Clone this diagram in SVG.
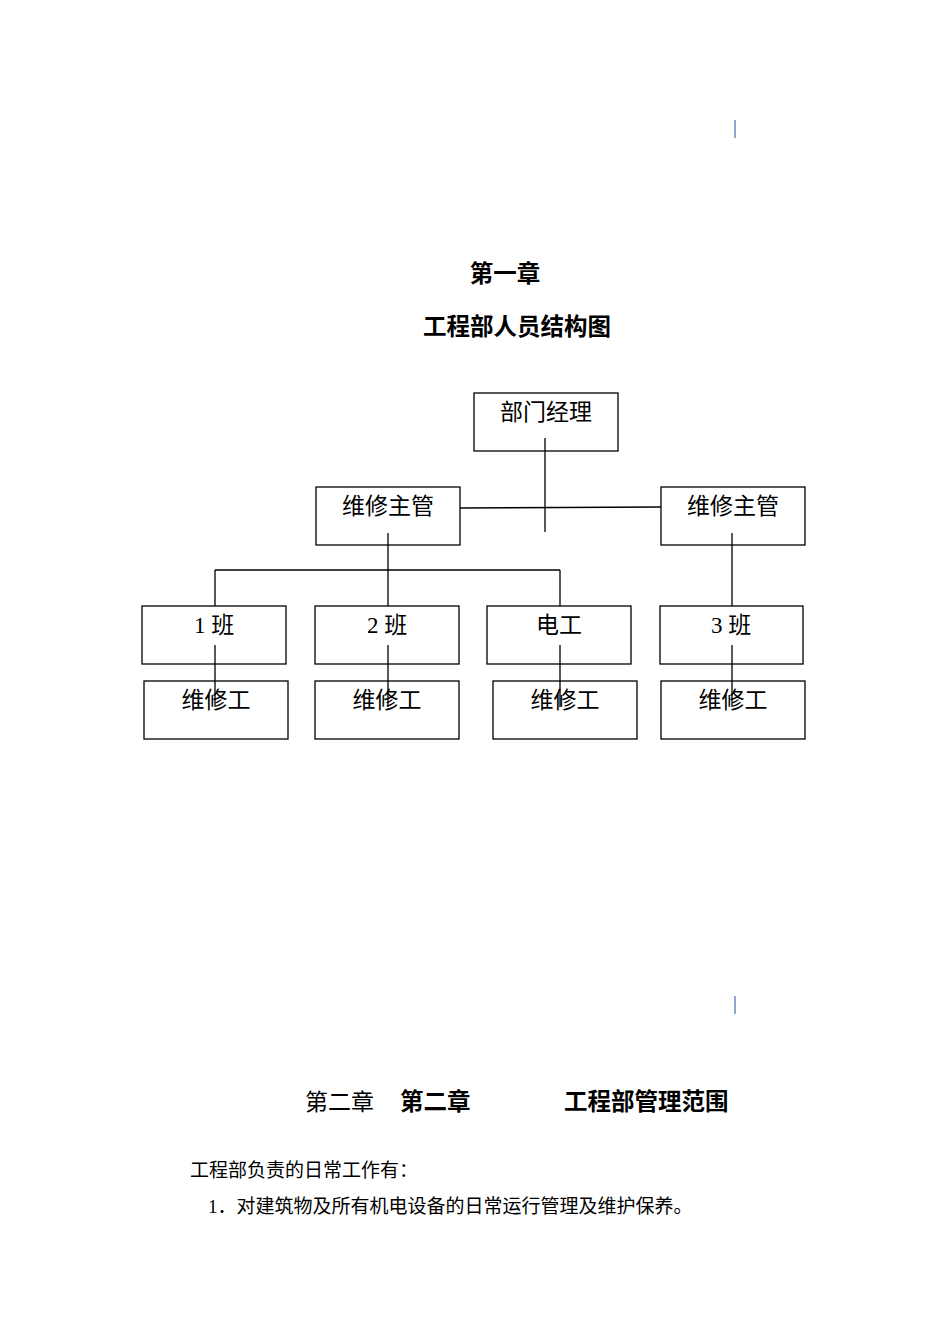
<svg xmlns="http://www.w3.org/2000/svg" width="950" height="1344" viewBox="0 0 950 1344">
<style>
.b{fill:#fff;stroke:#000;stroke-width:1.3}
.t{font-family:"Liberation Serif","Noto Sans CJK SC",serif;font-size:23px;text-anchor:middle;fill:#000}
.h{font-family:"Liberation Sans","Noto Sans CJK SC",sans-serif;font-size:23.5px;font-weight:bold;fill:#000}
.p{font-family:"Liberation Serif","Noto Sans CJK SC",serif;font-size:19px;fill:#000}
.c line{stroke:#000;stroke-width:1.3}
</style>
<rect width="950" height="1344" fill="#fff"/>
<line x1="735" y1="120" x2="735" y2="138" stroke="#8fa8d0" stroke-width="2"/>
<line x1="735" y1="996" x2="735" y2="1014" stroke="#8fa8d0" stroke-width="2"/>
<text class="h" x="505" y="282" text-anchor="middle">第一章</text>
<text class="h" x="517" y="335" text-anchor="middle">工程部人员结构图</text>
<g id="n0"><rect class="b" x="474" y="393" width="144" height="58"/><text class="t" x="546" y="420">部门经理</text></g>
<g id="n1"><rect class="b" x="316" y="487" width="144" height="58"/><text class="t" x="388" y="514">维修主管</text></g>
<g id="n2"><rect class="b" x="661" y="487" width="144" height="58"/><text class="t" x="733" y="514">维修主管</text></g>
<g id="n3"><rect class="b" x="142" y="606" width="144" height="58"/><text class="t" x="214" y="633">1 班</text></g>
<g id="n4"><rect class="b" x="315" y="606" width="144" height="58"/><text class="t" x="387" y="633">2 班</text></g>
<g id="n5"><rect class="b" x="487" y="606" width="144" height="58"/><text class="t" x="559" y="633">电工</text></g>
<g id="n6"><rect class="b" x="660" y="606" width="143" height="58"/><text class="t" x="731" y="633">3 班</text></g>
<g id="n7"><rect class="b" x="144" y="681" width="144" height="58"/><text class="t" x="216" y="708">维修工</text></g>
<g id="n8"><rect class="b" x="315" y="681" width="144" height="58"/><text class="t" x="387" y="708">维修工</text></g>
<g id="n9"><rect class="b" x="493" y="681" width="144" height="58"/><text class="t" x="565" y="708">维修工</text></g>
<g id="n10"><rect class="b" x="661" y="681" width="144" height="58"/><text class="t" x="733" y="708">维修工</text></g>
<g class="c" id="connectors">
<line x1="545" y1="438" x2="545" y2="532"/>
<line x1="460" y1="508" x2="661" y2="507"/>
<line x1="388" y1="533" x2="388" y2="606"/>
<line x1="215" y1="570" x2="560" y2="570"/>
<line x1="215" y1="570" x2="215" y2="606"/>
<line x1="560" y1="570" x2="560" y2="606"/>
<line x1="732" y1="533" x2="732" y2="606"/>
<line x1="215" y1="645" x2="215" y2="707"/>
<line x1="388" y1="645" x2="388" y2="707"/>
<line x1="560" y1="645" x2="560" y2="707"/>
<line x1="732" y1="645" x2="732" y2="707"/>
</g>
<text x="305" y="1110" style="font-family:'Liberation Serif','Noto Sans CJK SC',serif;font-size:23px">第二章</text>
<text class="h" x="400" y="1110">第二章</text>
<text class="h" x="564" y="1110">工程部管理范围</text>
<text class="p" x="190" y="1177">工程部负责的日常工作有：</text>
<text class="p" x="208" y="1213">1．对建筑物及所有机电设备的日常运行管理及维护保养。</text>
</svg>
